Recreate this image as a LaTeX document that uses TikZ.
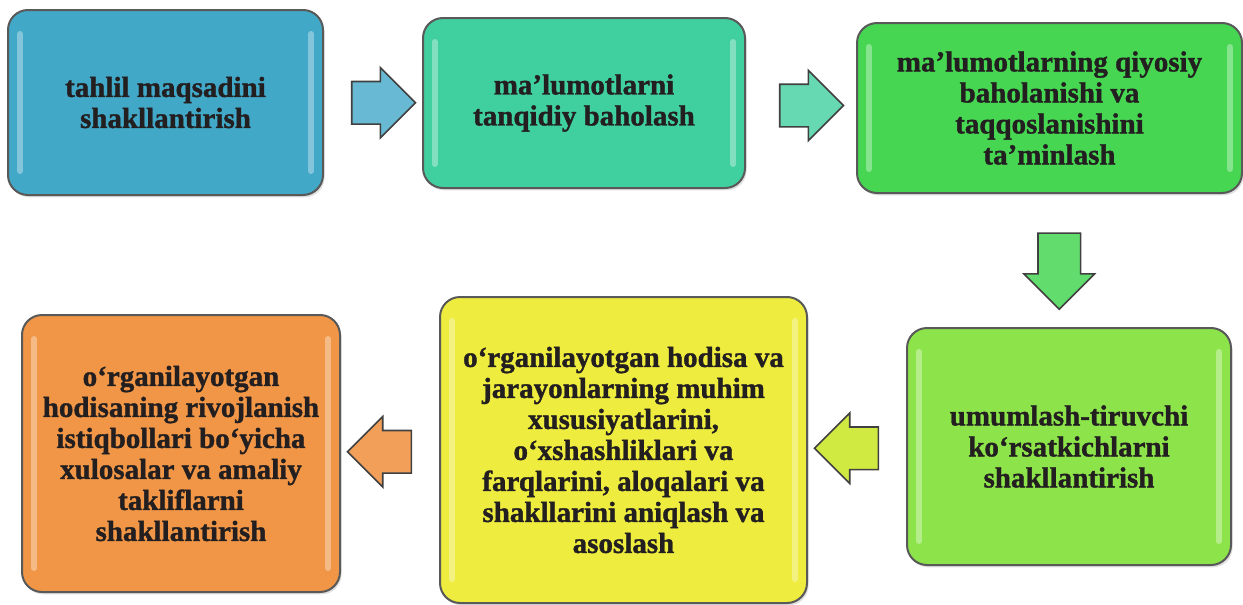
\documentclass[tikz,border=0pt]{standalone}
\usepackage{fontspec}
\setmainfont{Liberation Serif}[BoldFeatures={FakeBold=1.2}]
\usetikzlibrary{shapes.arrows, positioning, calc, shadows}
\definecolor{stepblue}{RGB}{66, 168, 200}
\definecolor{stepmint}{RGB}{64, 208, 160}
\definecolor{stepgreen}{RGB}{70, 214, 82}
\definecolor{steplime}{RGB}{140, 228, 74}
\definecolor{stepyellow}{RGB}{238, 236, 62}
\definecolor{steporange}{RGB}{240, 150, 70}
\definecolor{textdark}{RGB}{35, 31, 32}

\tikzset{
  stage/.style={draw=black!65, line width=1pt, rounded corners=10pt,
    align=center, text=textdark, inner sep=4pt,
    font=\fontsize{14.5}{15.5}\selectfont\bfseries,
    drop shadow={opacity=0.25, shadow xshift=0.8pt, shadow yshift=-1.2pt},
    path picture={
      \draw[white, opacity=0.35, line width=3pt, line cap=round]
        ([xshift=6pt,yshift=-12pt]path picture bounding box.north west) --
        ([xshift=6pt,yshift=12pt]path picture bounding box.south west)
        ([xshift=-6pt,yshift=-12pt]path picture bounding box.north east) --
        ([xshift=-6pt,yshift=12pt]path picture bounding box.south east);
    }},
  flow/.style={single arrow, draw=black!75, line width=0.8pt,
    inner sep=10.25pt, minimum height=30pt, single arrow head extend=7pt}
}

\begin{document}
\begin{tikzpicture}[x=0.5pt, y=-0.5pt]
\useasboundingbox (0,0) rectangle (1243,605);

% Top row
\node[stage, fill=stepblue, minimum width=157.5pt, minimum height=92.5pt] (b1) at (165.5,102.5)
  {tahlil maqsadini\\shakllantirish};
\node[stage, fill=stepmint, minimum width=161pt, minimum height=85pt] (b2) at (584,103)
  {ma’lumotlarni\\tanqidiy baholash};
\node[stage, fill=stepgreen, minimum width=192.5pt, minimum height=85pt] (b3) at (1049.5,108)
  {ma’lumotlarning qiyosiy\\baholanishi va\\taqqoslanishini\\ta’minlash};

% Bottom row
\node[stage, fill=steplime, minimum width=162pt, minimum height=118.5pt] (b4) at (1069,446.5)
  {umumlash-tiruvchi\\ko‘rsatkichlarni\\shakllantirish};
\node[stage, fill=stepyellow, minimum width=183.5pt, minimum height=153pt] (b5) at (623.5,450)
  {o‘rganilayotgan hodisa va\\jarayonlarning muhim\\xususiyatlarini,\\o‘xshashliklari va\\farqlarini, aloqalari va\\shakllarini aniqlash va\\asoslash};
\node[stage, fill=steporange, minimum width=159pt, minimum height=138.5pt] (b6) at (181,453.5)
  {o‘rganilayotgan\\hodisaning rivojlanish\\istiqbollari bo‘yicha\\xulosalar va amaliy\\takliflarni\\shakllantirish};

% Block arrows between the stages
\node[flow, fill=stepblue!80!white] (a12) at ($(b1.east)!0.5!(b2.west)$) {};
\node[flow, fill=stepmint!80!white] (a23) at ($(b2.east)!0.5!(b3.west)$) {};
\node[flow, fill=stepgreen!85!white, shape border rotate=270, minimum height=38pt] (a34)
  at ($(b3.south)!0.5!(b4.north)$) {};
\node[flow, fill=stepyellow!70!steplime, shape border rotate=180] (a45) at ($(b4.west)!0.5!(b5.east)$) {};
\node[flow, fill=steporange!90!white, shape border rotate=180] (a56) at ($(b5.west)!0.5!(b6.east)$) {};
\end{tikzpicture}
\end{document}
